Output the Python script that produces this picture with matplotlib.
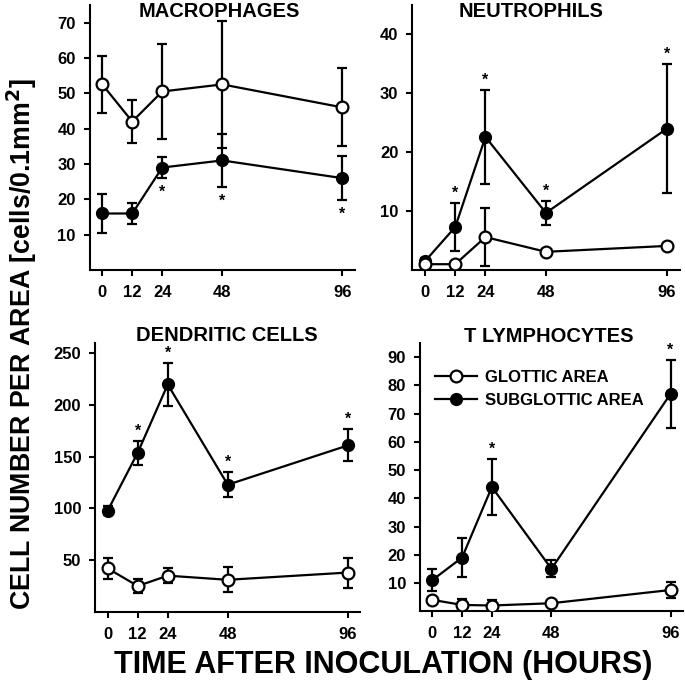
import numpy as np
import matplotlib.pyplot as plt
from matplotlib.lines import Line2D

plt.rcParams['font.family'] = ['Liberation Sans', 'DejaVu Sans']
plt.rcParams['font.weight'] = 'bold'

hours = [0, 12, 24, 48, 96]

mac_glot = [52.5, 42, 50.5, 52.5, 46]
mac_glot_err = [8, 6, 13.5, 18, 11]
mac_sub = [16, 16, 29, 31, 26]
mac_sub_err = [5.5, 3, 3, 7.5, 6.3]

neu_glot = [1.0, 1.0, 5.6, 3.1, 4.1]
neu_glot_err = [0.3, 0.3, 4.9, 0.4, 0.5]
neu_sub = [1.5, 7.3, 22.6, 9.7, 24]
neu_sub_err = [0.5, 4, 8, 2, 11]

den_glot = [42, 25, 35, 31, 38]
den_glot_err = [10.5, 7, 7.5, 12, 14.5]
den_sub = [98, 154, 220, 123, 161]
den_sub_err = [4, 11.5, 21, 12, 15.5]

tly_glot = [4, 2.2, 2, 2.8, 7.5]
tly_glot_err = [1, 2, 2, 0.8, 3]
tly_sub = [11, 19, 44, 15, 77]
tly_sub_err = [4, 7, 10, 3, 12]

# (title, glottic, err, subglottic, err, ylim, yticks, star hours, star side)
panels = [
    ("MACROPHAGES", mac_glot, mac_glot_err, mac_sub, mac_sub_err,
     75, [10, 20, 30, 40, 50, 60, 70], [24, 48, 96], -1),
    ("NEUTROPHILS", neu_glot, neu_glot_err, neu_sub, neu_sub_err,
     45, [10, 20, 30, 40], [12, 24, 48, 96], 1),
    ("DENDRITIC CELLS", den_glot, den_glot_err, den_sub, den_sub_err,
     260, [50, 100, 150, 200, 250], [12, 24, 48, 96], 1),
    ("T LYMPHOCYTES", tly_glot, tly_glot_err, tly_sub, tly_sub_err,
     95, [10, 20, 30, 40, 50, 60, 70, 80, 90], [24, 96], 1),
]

# axes rectangles in figure fraction, title position in axes fraction
rects = [[0.131, 0.608, 0.387, 0.385],
         [0.602, 0.608, 0.390, 0.385],
         [0.139, 0.112, 0.387, 0.390],
         [0.613, 0.113, 0.384, 0.389]]
title_pos = [(0.49, 0.975), (0.446, 0.975), (0.497, 1.03), (0.488, 1.025)]

fig = plt.figure(figsize=(6.85, 6.89), dpi=100)

for i, (title, g, ge, s, se, ytop, yt, stars, side) in enumerate(panels):
    ax = fig.add_axes(rects[i])
    ax.errorbar(hours, s, yerr=se, color='black', lw=1.6, elinewidth=1.6,
                capsize=3.6, capthick=1.6, marker='o', ms=8.5,
                mfc='black', mec='black', zorder=2)
    ax.errorbar(hours, g, yerr=ge, color='black', lw=1.6, elinewidth=1.6,
                capsize=3.6, capthick=1.6, marker='o', ms=8.5,
                mfc='white', mec='black', mew=1.6, zorder=3)
    for h in stars:
        k = hours.index(h)
        yv = s[k] + side * se[k]
        off = 7 if side > 0 else -10
        ax.annotate('*', (h, yv), xytext=(0, off), textcoords='offset points',
                    ha='center', va='center', fontsize=11.5)
    ax.set_xlim(-5, 101)
    ax.set_ylim(0, ytop)
    ax.set_xticks(hours)
    ax.set_yticks(yt)
    ax.tick_params(axis='x', labelsize=12, direction='out', length=4, width=1.5, pad=7)
    ax.tick_params(axis='y', labelsize=12, direction='out', length=4, width=1.5, pad=6)
    for lab in ax.get_xticklabels() + ax.get_yticklabels():
        lab.set_fontweight('bold')
    for sp in ['top', 'right']:
        ax.spines[sp].set_visible(False)
    for sp in ['left', 'bottom']:
        ax.spines[sp].set_linewidth(1.5)
    ax.text(title_pos[i][0], title_pos[i][1], title, transform=ax.transAxes,
            ha='center', va='center', fontsize=14.5, fontweight='bold')
    if i == 3:
        hg = Line2D([], [], color='black', lw=1.6, marker='o', ms=8.5,
                    mfc='white', mec='black', mew=1.6)
        hs = Line2D([], [], color='black', lw=1.6, marker='o', ms=8.5,
                    mfc='black', mec='black')
        ax.legend([hg, hs], ['GLOTTIC AREA', 'SUBGLOTTIC AREA'], loc='upper left',
                  bbox_to_anchor=(0.0, 0.955), frameon=False, fontsize=12,
                  handlelength=2.5, handletextpad=0.5, labelspacing=0.45)

fig.text(0.032, 0.5, "CELL NUMBER PER AREA [cells/0.1mm$^\\mathbf{2}$]", rotation=90,
         ha='center', va='center', fontsize=19.3, fontweight='bold')
fig.text(0.56, 0.035, "TIME AFTER INOCULATION (HOURS)", ha='center', va='center',
         fontsize=22, fontweight='bold')

plt.savefig("out.png", dpi=100)
